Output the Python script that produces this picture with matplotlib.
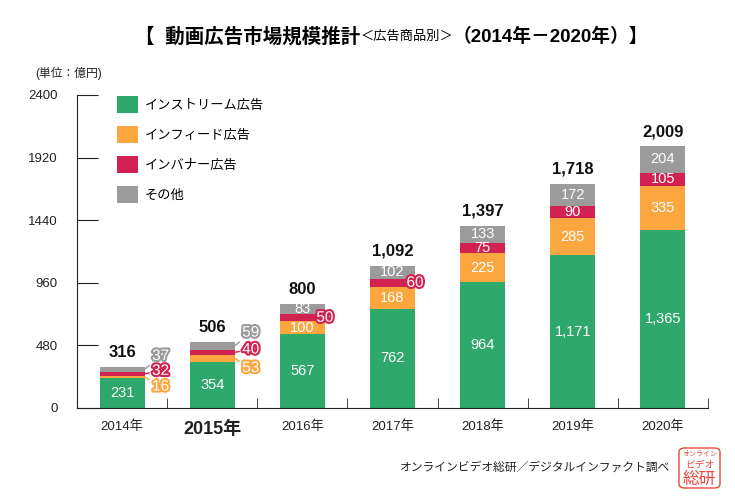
import matplotlib.pyplot as plt
import matplotlib.patheffects as pe
from matplotlib.patches import FancyBboxPatch
from matplotlib.text import Annotation

plt.rcParams['font.family'] = ['Liberation Sans', 'Noto Sans CJK JP']

# data (億円)
years = ['2014年', '2015年', '2016年', '2017年', '2018年', '2019年', '2020年']
instream = [231, 354, 567, 762, 964, 1171, 1365]
infeed = [16, 53, 100, 168, 225, 285, 335]
inbanner = [32, 40, 50, 60, 75, 90, 105]
other = [37, 59, 83, 102, 133, 172, 204]
totals = [316, 506, 800, 1092, 1397, 1718, 2009]

series = [('インストリーム広告', instream, '#2ea86b'),
          ('インフィード広告', infeed, '#fca640'),
          ('インバナー広告', inbanner, '#d22252'),
          ('その他', other, '#9b9b9b')]

fig = plt.figure(figsize=(7.35, 5.04), dpi=100)
ax = fig.add_axes([77/735, 1 - 408/504, 631/735, 313/504])

x = list(range(len(years)))
bottom = [0] * len(years)
for name, vals, color in series:
    ax.bar(x, vals, 0.5, bottom=bottom, color=color, label=name, zorder=2)
    for i, v in enumerate(vals):
        yc = bottom[i] + v / 2
        txt = f'{v:,}'
        if name == 'インストリーム広告' or v >= 70:
            ax.text(i, yc, txt, ha='center', va='center', color='white', fontsize=10.5, zorder=3)
        elif i < 2:
            # callout labels for the small bars
            dy = {'インフィード広告': -7, 'インバナー広告': 2, 'その他': 9.5}[name]
            ax.annotate(txt, xy=(i + 0.25, yc), xytext=(11.5, dy), textcoords='offset points',
                        ha='center', va='center', color='white', fontsize=11, zorder=4,
                        path_effects=[pe.withStroke(linewidth=3, foreground=color)],
                        arrowprops=dict(arrowstyle='-', color=color, lw=1, shrinkA=0, shrinkB=0))
        else:
            ax.text(i + 0.25, yc, txt, ha='center', va='center', color='white', fontsize=11,
                    zorder=4, path_effects=[pe.withStroke(linewidth=3, foreground=color)])
    bottom = [b + v for b, v in zip(bottom, vals)]

# totals above bars
for i, t in enumerate(totals):
    ax.annotate(f'{t:,}', xy=(i, t), xytext=(0, 5), textcoords='offset points',
                ha='center', va='bottom', fontsize=12, fontweight='bold', color='#111111')

ax.set_xlim(-0.5, 6.5)
ax.set_ylim(0, 2400)
ax.set_yticks([0, 480, 960, 1440, 1920, 2400])
ax.tick_params(axis='y', direction='in', length=15, pad=14, labelsize=9.5, colors='#222222')
ax.set_xticks(x)
ax.set_xticklabels(years)
ax.tick_params(axis='x', length=0, pad=9, labelsize=9.5, labelcolor='#222222')
ax.set_xticks([i + 0.5 for i in x], minor=True)
ax.tick_params(axis='x', which='minor', direction='in', length=7, color='#222222')
ax.get_xticklabels()[1].set_fontsize(13)
ax.get_xticklabels()[1].set_fontweight('bold')
ax.spines['top'].set_visible(False)
ax.spines['right'].set_visible(False)
ax.spines['left'].set_color('#222222')
ax.spines['bottom'].set_color('#222222')

ax.legend(loc='upper left', bbox_to_anchor=(117/735, 1 - 96/504), bbox_transform=fig.transFigure,
          frameon=False, fontsize=9.5, handlelength=1.6, handleheight=1.6, handletextpad=0.5,
          labelspacing=0.98, borderpad=0, borderaxespad=0)

# title (three pieces chained one after another)
t1 = fig.text(135/735, 1 - 37/504, '【  動画広告市場規模推計', fontsize=14, fontweight='bold', va='center')
t2 = fig.add_artist(Annotation('＜広告商品別＞', xy=(1, 0.5), xycoords=t1, va='center', fontsize=9.5))
t3 = fig.add_artist(Annotation('（2014年－2020年）】', xy=(1, 0.5), xycoords=t2, va='center',
                               fontsize=13.5, fontweight='bold'))

fig.text(35/735, 1 - 73/504, '(単位：億円)', fontsize=8.5, va='center', color='#222222')
fig.text(400/735, 1 - 468/504, 'オンラインビデオ総研／デジタルインファクト調べ', fontsize=8.5, va='center', color='#222222')

# stamp logo
red = '#e8473f'
fig.add_artist(FancyBboxPatch((679/735, 1 - 488/504), 41/735, 40/504, boxstyle='round,pad=0,rounding_size=0.008',
                              transform=fig.transFigure, fill=False, ec=red, lw=1))
fig.text(699.5/735, 1 - 454/504, 'オンライン', fontsize=5, color=red, ha='center', va='center')
fig.text(699.5/735, 1 - 465/504, 'ビデオ', fontsize=7, color=red, ha='center', va='center')
fig.text(699.5/735, 1 - 479/504, '総研', fontsize=12, color=red, ha='center', va='center')

plt.savefig('out.png')
